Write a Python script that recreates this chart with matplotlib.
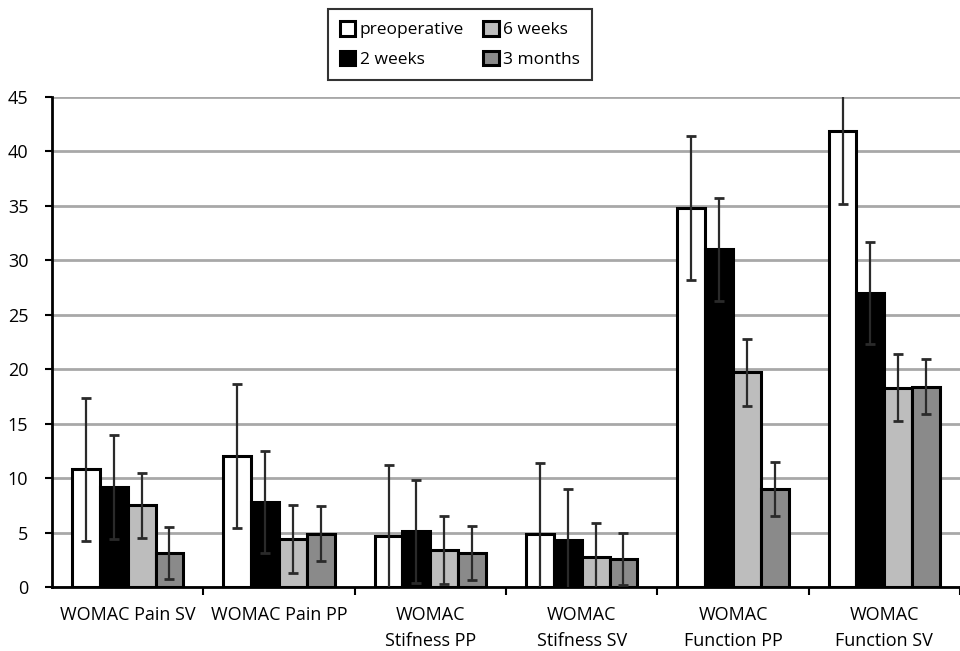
import matplotlib
matplotlib.use("Agg")
import matplotlib.pyplot as plt
import numpy as np

categories = ["WOMAC Pain SV", "WOMAC Pain PP", "WOMAC\nStifness PP",
              "WOMAC\nStifness SV", "WOMAC\nFunction PP", "WOMAC\nFunction SV"]
series_names = ["preoperative", "2 weeks", "6 weeks", "3 months"]
preop = [10.8, 12.0, 4.7, 4.9, 34.8, 41.9]
preop_sd = [6.6, 6.6, 6.5, 6.5, 6.6, 6.7]
wk2 = [9.2, 7.8, 5.1, 4.3, 31.0, 27.0]
wk2_sd = [4.8, 4.7, 4.7, 4.7, 4.7, 4.7]
wk6 = [7.5, 4.4, 3.4, 2.8, 19.7, 18.3]
wk6_sd = [3.0, 3.1, 3.1, 3.1, 3.1, 3.1]
m3 = [3.1, 4.9, 3.1, 2.6, 9.0, 18.4]
m3_sd = [2.4, 2.5, 2.5, 2.4, 2.5, 2.5]
yticks = [0, 5, 10, 15, 20, 25, 30, 35, 40, 45]

colors = ["#ffffff", "#000000", "#bdbdbd", "#8a8a8a"]

plt.rcParams['font.family'] = ['Open Sans', 'DejaVu Sans']

fig = plt.figure(figsize=(9.6, 6.51), dpi=100)
ax = fig.add_axes([52/960, 64/651, 908/960, (587-97)/651])

x = np.arange(len(categories))
w = 0.184
vals = [preop, wk2, wk6, m3]
sds = [preop_sd, wk2_sd, wk6_sd, m3_sd]
for i, (v, s) in enumerate(zip(vals, sds)):
    pos = x + (i - 1.5) * w
    ax.bar(pos, v, width=w, color=colors[i], edgecolor="black", linewidth=2.2,
           label=series_names[i], zorder=3)
    ax.errorbar(pos, v, yerr=s, fmt="none", ecolor="#2a2a2a", elinewidth=1.6,
                capsize=3.5, capthick=2, zorder=4)

ax.set_xlim(-0.5, 5.5)
ax.set_ylim(0, 45)
ax.set_yticks(yticks)
ax.set_yticklabels([str(t) for t in yticks], fontsize=13)
ax.yaxis.grid(True, color="#a8a8a8", linewidth=2, zorder=0)
ax.set_axisbelow(True)

ax.set_xticks(x)
ax.set_xticklabels(categories, fontsize=13, linespacing=1.55)
ax.tick_params(axis="x", which="major", length=0, pad=14)
ax.set_xticks(np.arange(-0.5, 6.0, 1.0)[1:], minor=True)
ax.tick_params(axis="x", which="minor", length=6, width=1.5, direction="out")
ax.tick_params(axis="y", length=5, width=1.5, direction="out", pad=12)

for sp in ["top", "right"]:
    ax.spines[sp].set_visible(False)
for sp in ["left", "bottom"]:
    ax.spines[sp].set_linewidth(2)
    ax.spines[sp].set_color("black")

leg = fig.legend(loc="upper center", bbox_to_anchor=(0.479, 0.986), ncol=2,
                 fontsize=12.5, frameon=True, fancybox=False, handlelength=0.9,
                 handleheight=0.9, handletextpad=0.25, columnspacing=1.1,
                 borderpad=0.7, labelspacing=0.7, borderaxespad=0)
leg.get_frame().set_edgecolor("black")
leg.get_frame().set_linewidth(1.5)

fig.savefig("out.png", dpi=100)
